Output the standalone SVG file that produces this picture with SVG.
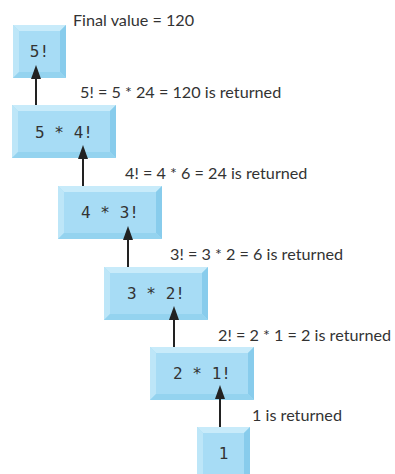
<svg xmlns="http://www.w3.org/2000/svg" xmlns:xlink="http://www.w3.org/1999/xlink" width="395" height="474" viewBox="0 0 395 474">
<style>
.face{fill:#a7dcf5}
.bt{fill:#c8ebfa}
.bl{fill:#bde6f8}
.br{fill:#88ccec}
.bb{fill:#94d3ef}
.code{font-family:"DejaVu Sans Mono","Liberation Mono",monospace;font-size:16px;fill:#333;text-anchor:middle}
.lbl{font-family:Lato,"Open Sans","Liberation Sans",sans-serif;font-size:16.2px;fill:#333}
.conn{stroke:#222;stroke-width:2;fill:none}
</style>
<defs>
<g id="wide">
<rect class="face" x="0" y="0" width="104" height="53"/>
<polygon class="bt" points="0,0 104,0 98,6 6,6"/>
<polygon class="bl" points="0,0 6,6 6,47 0,53"/>
<polygon class="br" points="104,0 104,53 98,47 98,6"/>
<polygon class="bb" points="0,53 6,47 98,47 104,53"/>
</g>
<g id="small">
<rect class="face" x="0" y="0" width="53" height="53"/>
<polygon class="bt" points="0,0 53,0 47,6 6,6"/>
<polygon class="bl" points="0,0 6,6 6,47 0,53"/>
<polygon class="br" points="53,0 53,53 47,47 47,6"/>
<polygon class="bb" points="0,53 6,47 47,47 53,53"/>
</g>
<marker id="ah" viewBox="0 0 14 10" refX="2" refY="5" markerWidth="14" markerHeight="10" markerUnits="userSpaceOnUse" orient="auto">
<path d="M0,0 L14,5 L0,10 z" fill="#222"/>
</marker>
</defs>

<g id="node-5fact">
<use xlink:href="#small" href="#small" x="13" y="25"/>
<text class="code" x="39.5" y="57">5!</text>
</g>
<g id="node-5x4">
<use xlink:href="#wide" href="#wide" x="12" y="105"/>
<text class="code" x="64" y="138">5 * 4!</text>
</g>
<g id="node-4x3">
<use xlink:href="#wide" href="#wide" x="58" y="186"/>
<text class="code" x="110" y="218">4 * 3!</text>
</g>
<g id="node-3x2">
<use xlink:href="#wide" href="#wide" x="104" y="267"/>
<text class="code" x="156" y="299">3 * 2!</text>
</g>
<g id="node-2x1">
<use xlink:href="#wide" href="#wide" x="150" y="347"/>
<text class="code" x="202" y="379">2 * 1!</text>
</g>
<g id="node-1">
<use xlink:href="#small" href="#small" x="197" y="427"/>
<text class="code" x="223.5" y="459">1</text>
</g>

<g id="connectors">
<line class="conn" x1="36" y1="105" x2="36" y2="77" marker-end="url(#ah)"/>
<line class="conn" x1="83" y1="186" x2="83" y2="157" marker-end="url(#ah)"/>
<line class="conn" x1="128" y1="267" x2="128" y2="238" marker-end="url(#ah)"/>
<line class="conn" x1="174" y1="347" x2="174" y2="318" marker-end="url(#ah)"/>
<line class="conn" x1="220" y1="427" x2="220" y2="397" marker-end="url(#ah)"/>
</g>

<g id="labels">
<text class="lbl" x="73" y="26">Final value = 120</text>
<text class="lbl" x="80" y="98">5! = 5 * 24 = 120 is returned</text>
<text class="lbl" x="125" y="179">4! = 4 * 6 = 24 is returned</text>
<text class="lbl" x="170" y="260">3! = 3 * 2 = 6 is returned</text>
<text class="lbl" x="218" y="341">2! = 2 * 1 = 2 is returned</text>
<text class="lbl" x="252" y="421">1 is returned</text>
</g>
</svg>
